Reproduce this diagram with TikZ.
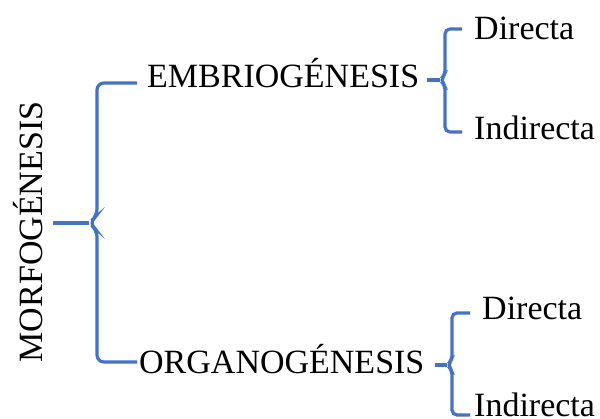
\documentclass[tikz,border=0pt]{standalone}
\usepackage{fontspec}
\setmainfont{Liberation Serif}
\definecolor{azul}{RGB}{68,114,196}
\begin{document}
\begin{tikzpicture}[
        x=1pt, y=-1pt,
        every node/.style={font=\fontsize{34}{40}\selectfont, inner sep=0pt},
        llave/.style={draw=azul, line width=3.2pt, rounded corners=7pt},
        llavechica/.style={llave, rounded corners=5pt},
        tallo/.style={draw=azul, line width=3.2pt},
    ]
    \useasboundingbox (0,0) rectangle (600,419);
    % textos
    \node[rotate=90, anchor=base] (morf) at (42,232) {MORFOGÉNESIS};
    \node[anchor=base west] (emb) at (147,88) {EMBRIOGÉNESIS};
    \node[anchor=base west] (org) at (139,374) {ORGANOGÉNESIS};
    \node[anchor=base west] (dir1) at (474,40) {Directa};
    \node[anchor=base west] (ind1) at (474,140) {Indirecta};
    \node[anchor=base west] (dir2) at (482,320) {Directa};
    \node[anchor=base west] (ind2) at (474,417) {Indirecta};
    % puntas de las llaves
    \coordinate (morf-s) at (53,223);
    \coordinate (morf-p) at (89,223);
    \coordinate (emb-t) at (137,83);
    \coordinate (org-t) at (137,362);
    \coordinate (emb-s) at (427,80);
    \coordinate (emb-p) at (440,80);
    \coordinate (dir1-t) at (462,29);
    \coordinate (ind1-t) at (462,132);
    \coordinate (org-s) at (435,365);
    \coordinate (org-p) at (447,365);
    \coordinate (dir2-t) at (470,313);
    \coordinate (ind2-t) at (470,415);
    % llave grande
    \draw[tallo] (morf-s) -- (morf-p);
    \draw[llave] (emb-t) -- (97,83) -- (97,216) -- (morf-p) -- (97,230) -- (97,362) -- (org-t);
    % llaves chicas
    \draw[tallo] (emb-s) -- (emb-p);
    \draw[llavechica] (dir1-t) -- (445,29) -- (445,75) -- (emb-p) -- (445,85) -- (445,132) -- (ind1-t);
    \draw[tallo] (org-s) -- (org-p);
    \draw[llavechica] (dir2-t) -- (452,313) -- (452,360) -- (org-p) -- (452,370) -- (452,415) -- (ind2-t);
\end{tikzpicture}
\end{document}
